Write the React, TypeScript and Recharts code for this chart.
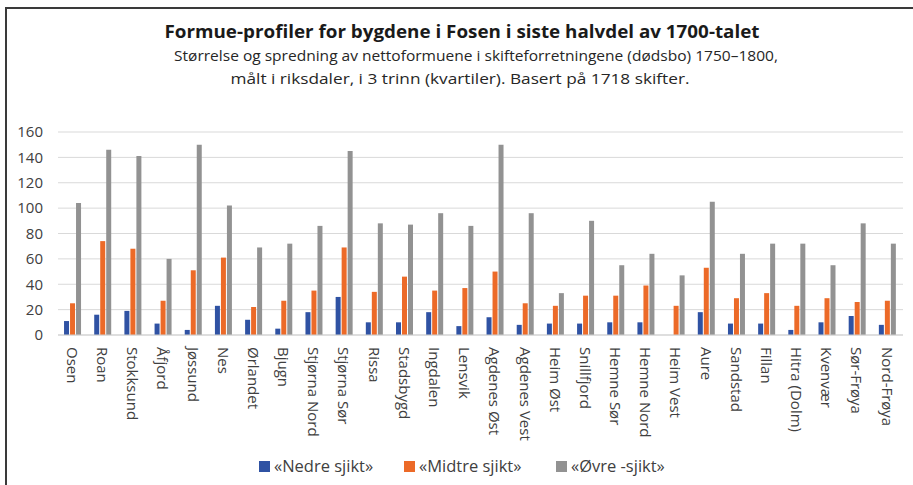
import { BarChart, Bar, XAxis, YAxis, CartesianGrid } from 'recharts';

const bygder = [
  'Osen', 'Roan', 'Stokksund', 'Åfjord', 'Jøssund', 'Nes', 'Ørlandet', 'Bjugn',
  'Stjørna Nord', 'Stjørna Sør', 'Rissa', 'Stadsbygd', 'Ingdalen', 'Lensvik',
  'Agdenes Øst', 'Agdenes Vest', 'Heim Øst', 'Snillfjord', 'Hemne Sør', 'Hemne Nord',
  'Heim Vest', 'Aure', 'Sandstad', 'Fillan', 'Hitra (Dolm)', 'Kvenvær', 'Sør-Frøya', 'Nord-Frøya',
];
const nedre = [11, 16, 19, 9, 4, 23, 12, 5, 18, 30, 10, 10, 18, 7, 14, 8, 9, 9, 10, 10, 0, 18, 9, 9, 4, 10, 15, 8];
const midtre = [25, 74, 68, 27, 51, 61, 22, 27, 35, 69, 34, 46, 35, 37, 50, 25, 23, 31, 31, 39, 23, 53, 29, 33, 23, 29, 26, 27];
const ovre = [104, 146, 141, 60, 150, 102, 69, 72, 86, 145, 88, 87, 96, 86, 150, 96, 33, 90, 55, 64, 47, 105, 64, 72, 72, 55, 88, 72];
const yTicks = [0, 20, 40, 60, 80, 100, 120, 140, 160];

const series = [
  { key: 'nedre', name: '«Nedre sjikt»', color: '#2F52A3' },
  { key: 'midtre', name: '«Midtre sjikt»', color: '#EC6A28' },
  { key: 'ovre', name: '«Øvre -sjikt»', color: '#929292' },
];

const data = bygder.map((b, i) => ({ bygd: b, nedre: nedre[i], midtre: midtre[i], ovre: ovre[i] }));

const FONT = '"Open Sans", sans-serif';

function BygdTick({ x, y, payload }: any) {
  return (
    <text
      transform={`translate(${x - 1},${y}) rotate(90)`}
      textAnchor="start"
      dy="0.35em"
      fontSize={15}
      fontFamily={FONT}
      fill="#404040"
    >
      {payload.value}
    </text>
  );
}

export default function App() {
  return (
    <div style={{ position: 'absolute', left: 0, top: 0, width: 913, height: 485, background: 'white' }}>
      <div style={{
        position: 'absolute', left: 5, top: 7, width: 908, height: 478,
        borderTop: '2px solid #3a3a3a', borderLeft: '2px solid #3a3a3a',
      }} />
      <svg width={913} height={110} style={{ position: 'absolute', left: 0, top: 0 }}>
        <text x={462} y={38} textAnchor="middle" fontFamily={FONT} fontWeight="bold" fontSize={17}
          fill="#1a1a1a" textLength={595} lengthAdjust="spacingAndGlyphs">
          Formue-profiler for bygdene i Fosen i siste halvdel av 1700-talet
        </text>
        <text x={476} y={61} textAnchor="middle" fontFamily={FONT} fontSize={14}
          fill="#262626" textLength={604} lengthAdjust="spacingAndGlyphs">
          Størrelse og spredning av nettoformuene i skifteforretningene (dødsbo) 1750–1800,
        </text>
        <text x={460} y={84} textAnchor="middle" fontFamily={FONT} fontSize={14}
          fill="#262626" textLength={459} lengthAdjust="spacingAndGlyphs">
          målt i riksdaler, i 3 trinn (kvartiler). Basert på 1718 skifter.
        </text>
      </svg>
      <div style={{ position: 'absolute', left: 0, top: 0 }}>
        <BarChart
          width={913}
          height={485}
          data={data}
          margin={{ top: 132, right: 10, left: 0, bottom: 0 }}
          barCategoryGap="20%"
          barGap={1}
        >
          <CartesianGrid vertical={false} stroke="#d9d9d9" />
          <XAxis
            dataKey="bygd"
            interval={0}
            height={150}
            tickLine={false}
            tickSize={0}
            tickMargin={12}
            axisLine={{ stroke: '#d0d0d0' }}
            tick={<BygdTick />}
          />
          <YAxis
            width={58}
            domain={[0, 160]}
            ticks={yTicks}
            axisLine={false}
            tickLine={false}
            tickSize={0}
            tickMargin={15}
            tick={{ fontSize: 15, fill: '#404040', fontFamily: FONT }}
          />
          {series.map(s => (
            <Bar key={s.key} dataKey={s.key} name={s.name} fill={s.color} isAnimationActive={false} />
          ))}
        </BarChart>
      </div>
      <svg width={913} height={30} style={{ position: 'absolute', left: 0, top: 452 }}>
        {series.map((s, i) => {
          const x0 = [259, 404, 556][i];
          return (
            <g key={s.key}>
              <rect x={x0} y={9} width={11} height={11} fill={s.color} />
              <text x={x0 + 15} y={20} fontSize={16.5} fontFamily={FONT} fill="#404040">{s.name}</text>
            </g>
          );
        })}
      </svg>
    </div>
  );
}
